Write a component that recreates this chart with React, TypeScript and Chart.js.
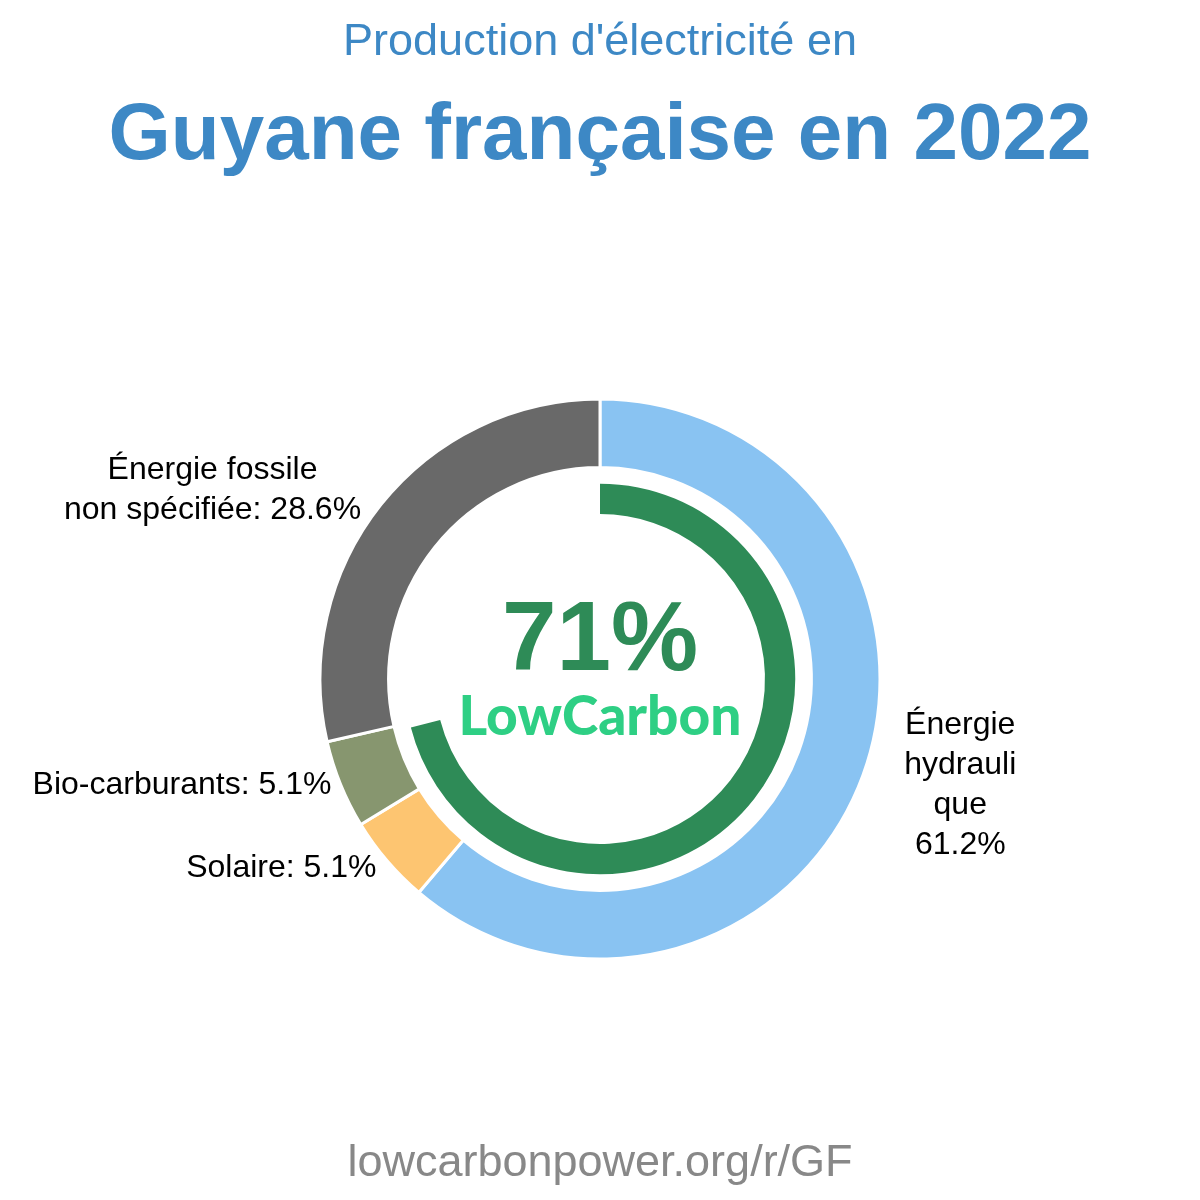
import React, { useEffect, useRef } from 'react';
import { Chart, registerables } from 'chart.js';

Chart.register(...registerables);

// Electricity mix, French Guiana 2022 (share of production, %)
const sources = ['Énergie hydraulique', 'Solaire', 'Bio-carburants', 'Énergie fossile non spécifiée'];
const shares = [61.2, 5.1, 5.1, 28.6];
const sourceColors = ['#89c3f2', '#fdc571', '#87966f', '#696969'];
// label text as it is wrapped in the picture
const labelLines = [
    ['Énergie', 'hydrauli', 'que', '61.2%'],
    ['Solaire: 5.1%'],
    ['Bio-carburants: 5.1%'],
    ['Énergie fossile', 'non spécifiée: 28.6%'],
];
const lowCarbonShare = [71, 29];

const TITLE = "Production d'électricité en";
const SUBTITLE = 'Guyane française en 2022';
const FOOTER = 'lowcarbonpower.org/r/GF';
const SANS = '"Liberation Sans", Arial, sans-serif';

// small nudges so the outside labels sit where the reference puts them
const labelNudge = [
    { dx: 32, dy: 6 },
    { dx: -3, dy: 1 },
    { dx: 0, dy: -3 },
    { dx: -12, dy: -8 },
];

const textPlugin = {
    id: 'lcpText',
    afterDraw(chart: any) {
        const ctx: CanvasRenderingContext2D = chart.ctx;
        const meta = chart.getDatasetMeta(0);
        const first = meta.data[0];
        if (!first) return;
        const cx = first.x;
        const cy = first.y;

        ctx.save();
        ctx.textAlign = 'center';
        ctx.textBaseline = 'alphabetic';

        // headings
        ctx.fillStyle = '#3d88c5';
        ctx.font = `45px ${SANS}`;
        ctx.fillText(TITLE, 600, 55);
        ctx.font = `bold 80px ${SANS}`;
        ctx.fillText(SUBTITLE, 600, 159);

        ctx.fillStyle = '#888888';
        ctx.font = `45px ${SANS}`;
        ctx.fillText(FOOTER, 600, 1176);

        // centre
        ctx.fillStyle = '#2e8b57';
        ctx.font = `bold 98px ${SANS}`;
        ctx.fillText(`${lowCarbonShare[0]}%`, cx, cy - 9);
        ctx.fillStyle = '#2ecf84';
        ctx.font = `900 55px Lato, ${SANS}`;
        ctx.fillText('LowCarbon', cx, cy + 56);

        // outside labels
        ctx.fillStyle = '#000000';
        ctx.font = `32px ${SANS}`;
        ctx.textBaseline = 'middle';
        const lineH = 40;
        meta.data.forEach((arc: any, i: number) => {
            const p = arc.getProps(['startAngle', 'endAngle', 'outerRadius'], true);
            const mid = (p.startAngle + p.endAngle) / 2;
            const r = p.outerRadius + 10;
            const ax = cx + Math.cos(mid) * r + labelNudge[i].dx;
            const ay = cy + Math.sin(mid) * r + labelNudge[i].dy;
            const lines = labelLines[i];
            const blockW = Math.max(...lines.map(l => ctx.measureText(l).width));
            const centerX = Math.cos(mid) >= 0 ? ax + blockW / 2 : ax - blockW / 2;
            const top = ay - ((lines.length - 1) * lineH) / 2;
            lines.forEach((l, k) => ctx.fillText(l, centerX, top + k * lineH));
        });
        ctx.restore();
    },
};

const OUTER_R = 280;
const INNER_R = 165;

const App: React.FC = () => {
    const chartRef = useRef<HTMLCanvasElement>(null);
    const chartInstanceRef = useRef<Chart | null>(null);

    useEffect(() => {
        if (!chartRef.current) return;
        const ctx = chartRef.current.getContext('2d');
        if (!ctx) return;
        if (chartInstanceRef.current) {
            chartInstanceRef.current.destroy();
        }

        chartInstanceRef.current = new Chart(ctx, {
            type: 'doughnut',
            data: {
                labels: sources,
                datasets: [
                    {
                        data: shares,
                        backgroundColor: sourceColors,
                        borderColor: '#ffffff',
                        borderWidth: 3,
                        weight: 68,
                    },
                    {
                        // white gap between the two rings
                        data: [1],
                        backgroundColor: ['rgba(0,0,0,0)'],
                        borderWidth: 0,
                        weight: 16,
                    },
                    {
                        data: lowCarbonShare,
                        backgroundColor: ['#2e8b57', 'rgba(0,0,0,0)'],
                        borderWidth: 0,
                        weight: 30,
                    },
                ],
            } as any,
            options: {
                responsive: false,
                animation: false,
                events: [],
                radius: OUTER_R,
                cutout: `${(INNER_R / OUTER_R) * 100}%`,
                layout: { padding: { top: 158, bottom: 0 } },
                plugins: {
                    legend: { display: false },
                    tooltip: { enabled: false },
                },
            } as any,
            plugins: [textPlugin],
        });

        return () => {
            if (chartInstanceRef.current) {
                chartInstanceRef.current.destroy();
                chartInstanceRef.current = null;
            }
        };
    }, []);

    return (
        <div style={{ position: 'absolute', left: 0, top: 0, width: 1200, height: 1200, background: '#ffffff' }}>
            <canvas ref={chartRef} width={1200} height={1200}></canvas>
        </div>
    );
};

export default App;
